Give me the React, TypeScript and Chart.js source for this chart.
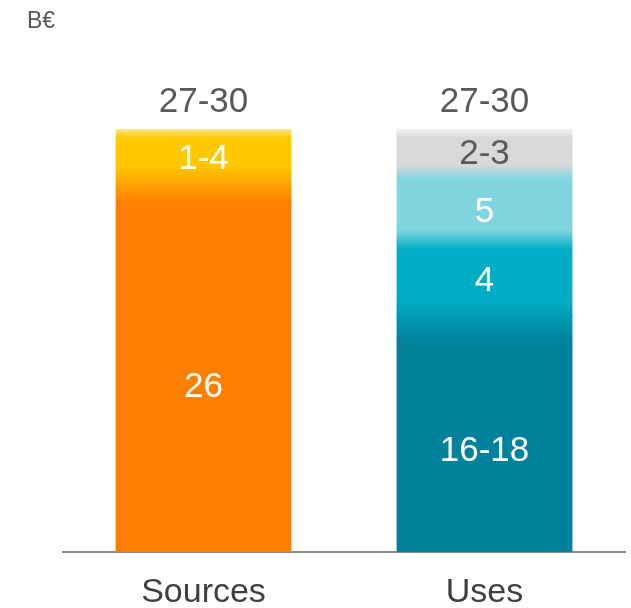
import React, { useEffect, useRef } from "react";
import { Chart, registerables } from "chart.js";

Chart.register(...registerables);

// ---- data ----
const categories = ["Sources", "Uses"];
const unitLabel = "B€";
const totalLabels = ["27-30", "27-30"];

// segment heights, bottom to top (as drawn)
const sourcesValues = [25.6, 4.4];
const sourcesLabels = ["26", "1-4"];
const usesValues = [16.7, 5.3, 5.3, 2.7];
const usesLabels = ["16-18", "4", "5", "2-3"];

// ---- styles ----
const FONT = "'Liberation Sans', Arial, Helvetica, sans-serif";
const sourcesColors = ["#FF8000", "#FFC800"];
const usesColors = ["#00819C", "#00ADC4", "#80D5DF", "#D9D9D9"];
const sourcesTopFade = "#FFE68F";
const usesTopFade = "#F2F2F2";
const sourcesLabelColors = ["#FFFFFF", "#FFFFFF"];
const usesLabelColors = ["#FFFFFF", "#FFFFFF", "#FFFFFF", "#595959"];
// label vertical nudges (px)
const sourcesLabelDy = [14, -3];
const usesLabelDy = [15, 0, 6, 4];
// blend zones (px above, px below) at each boundary, bottom to top
const sourcesBlend = [[26, 12]];
const usesBlend = [[16, 24], [12, 8], [2, 12]];

function barGradient(chart: any, i: number) {
  const { ctx, chartArea, scales } = chart;
  const values = i === 0 ? sourcesValues : usesValues;
  const colors = i === 0 ? sourcesColors : usesColors;
  const blends = i === 0 ? sourcesBlend : usesBlend;
  const fade = i === 0 ? sourcesTopFade : usesTopFade;
  if (!chartArea) return colors[0];
  const y = scales.y;
  const total = values.reduce((a, b) => a + b, 0);
  const top = y.getPixelForValue(total);
  const bottom = y.getPixelForValue(0);
  const h = bottom - top;
  const f = (p: number) => Math.min(1, Math.max(0, (p - top) / h));
  const g = ctx.createLinearGradient(0, top, 0, bottom);
  const n = values.length;
  g.addColorStop(0, fade);
  g.addColorStop(f(top + 9), colors[n - 1]);
  let cum = total;
  for (let k = n - 1; k >= 1; k--) {
    cum -= values[k];
    const b = y.getPixelForValue(cum);
    const [up, down] = blends[k - 1];
    g.addColorStop(f(b - up), colors[k]);
    g.addColorStop(f(b + down), colors[k - 1]);
  }
  g.addColorStop(1, colors[0]);
  return g;
}

const maxSegs = Math.max(sourcesValues.length, usesValues.length);
const datasets = Array.from({ length: maxSegs }, (_, k) => ({
  label: "seg" + k,
  data: [
    k < sourcesValues.length ? sourcesValues[k] : null,
    k < usesValues.length ? usesValues[k] : null,
  ],
  segLabels: [sourcesLabels[k] ?? "", usesLabels[k] ?? ""],
  segLabelColors: [sourcesLabelColors[k] ?? "#fff", usesLabelColors[k] ?? "#fff"],
  segLabelDy: [sourcesLabelDy[k] ?? 0, usesLabelDy[k] ?? 0],
  backgroundColor: (c: any) => (c.type === "data" ? barGradient(c.chart, c.dataIndex) : "#ccc"),
  borderWidth: 0,
  inflateAmount: 0.8,
  categoryPercentage: 0.62,
  barPercentage: 1,
}));

const labelsPlugin = {
  id: "segLabels",
  afterDatasetsDraw(chart: any) {
    const { ctx } = chart;
    ctx.save();
    ctx.textAlign = "center";
    ctx.textBaseline = "middle";
    ctx.font = `35px ${FONT}`;
    const tops: number[] = [];
    chart.data.datasets.forEach((ds: any, di: number) => {
      const meta = chart.getDatasetMeta(di);
      meta.data.forEach((el: any, i: number) => {
        if (ds.data[i] == null) return;
        const { x, y, base } = el.getProps(["x", "y", "base"], true);
        tops[i] = tops[i] === undefined ? y : Math.min(tops[i], y);
        ctx.fillStyle = ds.segLabelColors[i];
        ctx.fillText(ds.segLabels[i], x, (y + base) / 2 + 2 + ds.segLabelDy[i]);
      });
    });
    const meta0 = chart.getDatasetMeta(0);
    meta0.data.forEach((el: any, i: number) => {
      ctx.fillStyle = "#595959";
      ctx.fillText(totalLabels[i], el.x, tops[i] - 27);
    });
    ctx.restore();
  },
};

export default function App() {
  const ref = useRef<HTMLCanvasElement>(null);
  useEffect(() => {
    if (!ref.current) return;
    const chart = new Chart(ref.current, {
      type: "bar",
      data: { labels: categories, datasets: datasets as any },
      options: {
        animation: false,
        responsive: true,
        maintainAspectRatio: false,
        layout: { padding: { top: 129, left: 63, right: 6, bottom: 0 } },
        plugins: { legend: { display: false }, tooltip: { enabled: false } },
        scales: {
          x: {
            stacked: true,
            grid: { display: false, drawTicks: false },
            border: { display: true, color: "#8C8C8C", width: 2 },
            ticks: {
              color: "#404040",
              font: { family: FONT, size: 34, lineHeight: 1.1 },
              padding: 22,
            },
            afterFit: (scale: any) => {
              scale.height = 56;
            },
          },
          y: { stacked: true, display: false, min: 0, max: 30 },
        },
      },
      plugins: [labelsPlugin],
    });
    return () => chart.destroy();
  }, []);
  return (
    <div style={{ position: "fixed", left: 0, top: 0, width: 631, height: 608, background: "#fff" }}>
      <div
        style={{
          position: "absolute",
          left: 27,
          top: 7,
          fontFamily: FONT,
          fontSize: 23,
          color: "#595959",
        }}
      >
        {unitLabel}
      </div>
      <canvas ref={ref} />
    </div>
  );
}
